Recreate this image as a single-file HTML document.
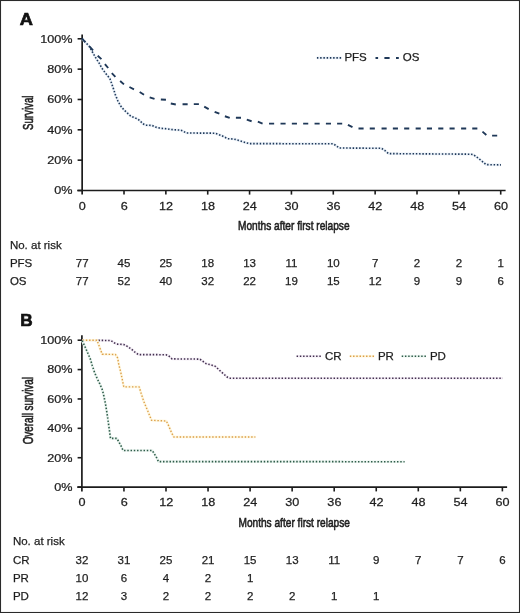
<!DOCTYPE html>
<html><head><meta charset="utf-8"><style>
html,body{margin:0;padding:0;background:#fff;}
svg{display:block;}
.t{font-family:"Liberation Sans", sans-serif;font-size:11.5px;fill:#1e1e1e;stroke:#1e1e1e;stroke-width:0.25px;}
.c{font-family:"Liberation Sans", sans-serif;font-size:14px;fill:#1e1e1e;stroke:#1e1e1e;stroke-width:0.6px;}
.tx{font-size:11.7px;}
.b{font-family:"Liberation Sans", sans-serif;font-size:17.2px;font-weight:bold;fill:#111;stroke:#111;stroke-width:0.7px;}
</style></head><body>
<svg width="520" height="613" viewBox="0 0 520 613"><rect x="0.5" y="0.5" width="519" height="612" fill="#fff" stroke="#2a2a2a" stroke-width="1.1"/><g opacity="0.999">
<g transform="translate(19.8,25.2) scale(1.06,1)"><text x="0" y="0" class="b">A</text></g>
<g transform="translate(20.2,325.9) scale(1.0,1)"><text x="0" y="0" class="b">B</text></g>
<line x1="82.15" y1="34.5" x2="82.15" y2="194.6" stroke="#1c1c1c" stroke-width="1.7"/>
<line x1="77.3" y1="190.5" x2="505.6" y2="190.5" stroke="#1c1c1c" stroke-width="1.7"/>
<line x1="77.6" y1="38.80" x2="82.15" y2="38.80" stroke="#1c1c1c" stroke-width="1.6"/>
<g transform="translate(72.6,42.60) scale(1.1,1)"><text x="0" y="0" text-anchor="end" class="t">100%</text></g>
<line x1="77.6" y1="69.14" x2="82.15" y2="69.14" stroke="#1c1c1c" stroke-width="1.6"/>
<g transform="translate(72.6,72.94) scale(1.1,1)"><text x="0" y="0" text-anchor="end" class="t">80%</text></g>
<line x1="77.6" y1="99.48" x2="82.15" y2="99.48" stroke="#1c1c1c" stroke-width="1.6"/>
<g transform="translate(72.6,103.28) scale(1.1,1)"><text x="0" y="0" text-anchor="end" class="t">60%</text></g>
<line x1="77.6" y1="129.82" x2="82.15" y2="129.82" stroke="#1c1c1c" stroke-width="1.6"/>
<g transform="translate(72.6,133.62) scale(1.1,1)"><text x="0" y="0" text-anchor="end" class="t">40%</text></g>
<line x1="77.6" y1="160.16" x2="82.15" y2="160.16" stroke="#1c1c1c" stroke-width="1.6"/>
<g transform="translate(72.6,163.96) scale(1.1,1)"><text x="0" y="0" text-anchor="end" class="t">20%</text></g>
<line x1="77.6" y1="190.50" x2="82.15" y2="190.50" stroke="#1c1c1c" stroke-width="1.6"/>
<g transform="translate(72.6,194.30) scale(1.1,1)"><text x="0" y="0" text-anchor="end" class="t">0%</text></g>
<g transform="translate(82.35,209.8) scale(1.08,1)"><text x="0" y="0" text-anchor="middle" class="t tx">0</text></g>
<line x1="124.01" y1="190.5" x2="124.01" y2="194.6" stroke="#1c1c1c" stroke-width="1.6"/>
<g transform="translate(124.21,209.8) scale(1.08,1)"><text x="0" y="0" text-anchor="middle" class="t tx">6</text></g>
<line x1="165.86" y1="190.5" x2="165.86" y2="194.6" stroke="#1c1c1c" stroke-width="1.6"/>
<g transform="translate(166.06,209.8) scale(1.08,1)"><text x="0" y="0" text-anchor="middle" class="t tx">12</text></g>
<line x1="207.72" y1="190.5" x2="207.72" y2="194.6" stroke="#1c1c1c" stroke-width="1.6"/>
<g transform="translate(207.92,209.8) scale(1.08,1)"><text x="0" y="0" text-anchor="middle" class="t tx">18</text></g>
<line x1="249.57" y1="190.5" x2="249.57" y2="194.6" stroke="#1c1c1c" stroke-width="1.6"/>
<g transform="translate(249.77,209.8) scale(1.08,1)"><text x="0" y="0" text-anchor="middle" class="t tx">24</text></g>
<line x1="291.43" y1="190.5" x2="291.43" y2="194.6" stroke="#1c1c1c" stroke-width="1.6"/>
<g transform="translate(291.63,209.8) scale(1.08,1)"><text x="0" y="0" text-anchor="middle" class="t tx">30</text></g>
<line x1="333.29" y1="190.5" x2="333.29" y2="194.6" stroke="#1c1c1c" stroke-width="1.6"/>
<g transform="translate(333.49,209.8) scale(1.08,1)"><text x="0" y="0" text-anchor="middle" class="t tx">36</text></g>
<line x1="375.14" y1="190.5" x2="375.14" y2="194.6" stroke="#1c1c1c" stroke-width="1.6"/>
<g transform="translate(375.34,209.8) scale(1.08,1)"><text x="0" y="0" text-anchor="middle" class="t tx">42</text></g>
<line x1="417.00" y1="190.5" x2="417.00" y2="194.6" stroke="#1c1c1c" stroke-width="1.6"/>
<g transform="translate(417.20,209.8) scale(1.08,1)"><text x="0" y="0" text-anchor="middle" class="t tx">48</text></g>
<line x1="458.85" y1="190.5" x2="458.85" y2="194.6" stroke="#1c1c1c" stroke-width="1.6"/>
<g transform="translate(459.05,209.8) scale(1.08,1)"><text x="0" y="0" text-anchor="middle" class="t tx">54</text></g>
<line x1="500.71" y1="190.5" x2="500.71" y2="194.6" stroke="#1c1c1c" stroke-width="1.6"/>
<g transform="translate(500.91,209.8) scale(1.08,1)"><text x="0" y="0" text-anchor="middle" class="t tx">60</text></g>
<text x="293.8" y="230.2" text-anchor="middle" class="c" style="font-size:13.4px" textLength="111.5" lengthAdjust="spacingAndGlyphs">Months after first relapse</text>
<text transform="translate(32.6,112.75) rotate(-90)" x="0" y="0" text-anchor="middle" class="c" textLength="34.5" lengthAdjust="spacingAndGlyphs">Survival</text>
<line x1="81.9" y1="335.2" x2="81.9" y2="491.4" stroke="#1c1c1c" stroke-width="1.7"/>
<line x1="77.3" y1="487.1" x2="507.1" y2="487.1" stroke="#1c1c1c" stroke-width="1.7"/>
<line x1="77.6" y1="340.20" x2="81.9" y2="340.20" stroke="#1c1c1c" stroke-width="1.6"/>
<g transform="translate(72.6,344.00) scale(1.1,1)"><text x="0" y="0" text-anchor="end" class="t">100%</text></g>
<line x1="77.6" y1="369.58" x2="81.9" y2="369.58" stroke="#1c1c1c" stroke-width="1.6"/>
<g transform="translate(72.6,373.38) scale(1.1,1)"><text x="0" y="0" text-anchor="end" class="t">80%</text></g>
<line x1="77.6" y1="398.96" x2="81.9" y2="398.96" stroke="#1c1c1c" stroke-width="1.6"/>
<g transform="translate(72.6,402.76) scale(1.1,1)"><text x="0" y="0" text-anchor="end" class="t">60%</text></g>
<line x1="77.6" y1="428.34" x2="81.9" y2="428.34" stroke="#1c1c1c" stroke-width="1.6"/>
<g transform="translate(72.6,432.14) scale(1.1,1)"><text x="0" y="0" text-anchor="end" class="t">40%</text></g>
<line x1="77.6" y1="457.72" x2="81.9" y2="457.72" stroke="#1c1c1c" stroke-width="1.6"/>
<g transform="translate(72.6,461.52) scale(1.1,1)"><text x="0" y="0" text-anchor="end" class="t">20%</text></g>
<line x1="77.6" y1="487.10" x2="81.9" y2="487.10" stroke="#1c1c1c" stroke-width="1.6"/>
<g transform="translate(72.6,490.90) scale(1.1,1)"><text x="0" y="0" text-anchor="end" class="t">0%</text></g>
<g transform="translate(82.10,506.4) scale(1.08,1)"><text x="0" y="0" text-anchor="middle" class="t tx">0</text></g>
<line x1="123.95" y1="487.1" x2="123.95" y2="491.4" stroke="#1c1c1c" stroke-width="1.6"/>
<g transform="translate(124.15,506.4) scale(1.08,1)"><text x="0" y="0" text-anchor="middle" class="t tx">6</text></g>
<line x1="166.00" y1="487.1" x2="166.00" y2="491.4" stroke="#1c1c1c" stroke-width="1.6"/>
<g transform="translate(166.20,506.4) scale(1.08,1)"><text x="0" y="0" text-anchor="middle" class="t tx">12</text></g>
<line x1="208.04" y1="487.1" x2="208.04" y2="491.4" stroke="#1c1c1c" stroke-width="1.6"/>
<g transform="translate(208.24,506.4) scale(1.08,1)"><text x="0" y="0" text-anchor="middle" class="t tx">18</text></g>
<line x1="250.09" y1="487.1" x2="250.09" y2="491.4" stroke="#1c1c1c" stroke-width="1.6"/>
<g transform="translate(250.29,506.4) scale(1.08,1)"><text x="0" y="0" text-anchor="middle" class="t tx">24</text></g>
<line x1="292.14" y1="487.1" x2="292.14" y2="491.4" stroke="#1c1c1c" stroke-width="1.6"/>
<g transform="translate(292.34,506.4) scale(1.08,1)"><text x="0" y="0" text-anchor="middle" class="t tx">30</text></g>
<line x1="334.19" y1="487.1" x2="334.19" y2="491.4" stroke="#1c1c1c" stroke-width="1.6"/>
<g transform="translate(334.39,506.4) scale(1.08,1)"><text x="0" y="0" text-anchor="middle" class="t tx">36</text></g>
<line x1="376.24" y1="487.1" x2="376.24" y2="491.4" stroke="#1c1c1c" stroke-width="1.6"/>
<g transform="translate(376.44,506.4) scale(1.08,1)"><text x="0" y="0" text-anchor="middle" class="t tx">42</text></g>
<line x1="418.28" y1="487.1" x2="418.28" y2="491.4" stroke="#1c1c1c" stroke-width="1.6"/>
<g transform="translate(418.48,506.4) scale(1.08,1)"><text x="0" y="0" text-anchor="middle" class="t tx">48</text></g>
<line x1="460.33" y1="487.1" x2="460.33" y2="491.4" stroke="#1c1c1c" stroke-width="1.6"/>
<g transform="translate(460.53,506.4) scale(1.08,1)"><text x="0" y="0" text-anchor="middle" class="t tx">54</text></g>
<line x1="502.38" y1="487.1" x2="502.38" y2="491.4" stroke="#1c1c1c" stroke-width="1.6"/>
<g transform="translate(502.58,506.4) scale(1.08,1)"><text x="0" y="0" text-anchor="middle" class="t tx">60</text></g>
<text x="294.2" y="526.5" text-anchor="middle" class="c" style="font-size:13.4px" textLength="111.5" lengthAdjust="spacingAndGlyphs">Months after first relapse</text>
<text transform="translate(33.0,410.7) rotate(-90)" x="0" y="0" text-anchor="middle" class="c" textLength="67.3" lengthAdjust="spacingAndGlyphs">Overall survival</text>
<path d="M82.2,38.8 L89,46 L93.5,53.9 L96.9,59.8 L98.9,62.7 L101.8,68.1 L105.7,73.5 L109.9,78.6 L111.1,81.9 L113.1,87.7 L115.3,94.6 L117.7,100.5 L120.3,105.5 L122.4,108.1 L124.7,110.6 L127,112.7 L129.3,115 L131.8,116.7 L135.1,117.9 L138.2,119.4 L140.5,121.3 L142.8,123.7 L145.5,125.2 L152,125.4 L154.7,126.8 L157.8,127.7 L160.9,128.3 L167.4,128.8 L170.5,129.4 L174,129.8 L180.4,130.1 L183.3,131.2 L186.2,133 L215,133.2 L221.4,135.5 L227.8,138.7 L233.8,139 L240.5,141 L246.5,142.9 L249.4,143.6 L333.1,143.8 L336.2,145.7 L339.2,148 L381.5,148.3 L384.6,150.3 L388.5,153.6 L470.4,154.2 L473.4,154.7 L476,156.5 L481.2,160.5 L486,164.6 L501,164.9" fill="none" stroke="#e8eff7" stroke-width="2.6" stroke-dasharray="none" stroke-linejoin="round"/>
<path d="M82.2,38.8 L89,46 L93.5,53.9 L96.9,59.8 L98.9,62.7 L101.8,68.1 L105.7,73.5 L109.9,78.6 L111.1,81.9 L113.1,87.7 L115.3,94.6 L117.7,100.5 L120.3,105.5 L122.4,108.1 L124.7,110.6 L127,112.7 L129.3,115 L131.8,116.7 L135.1,117.9 L138.2,119.4 L140.5,121.3 L142.8,123.7 L145.5,125.2 L152,125.4 L154.7,126.8 L157.8,127.7 L160.9,128.3 L167.4,128.8 L170.5,129.4 L174,129.8 L180.4,130.1 L183.3,131.2 L186.2,133 L215,133.2 L221.4,135.5 L227.8,138.7 L233.8,139 L240.5,141 L246.5,142.9 L249.4,143.6 L333.1,143.8 L336.2,145.7 L339.2,148 L381.5,148.3 L384.6,150.3 L388.5,153.6 L470.4,154.2 L473.4,154.7 L476,156.5 L481.2,160.5 L486,164.6 L501,164.9" fill="none" stroke="#1f3858" stroke-width="1.6" stroke-dasharray="1.45 1.8" stroke-linejoin="round"/>
<path d="M81.77,38.43L85.23,42.17M89.69,46.57L93.01,50.43M97.67,55.68L101.43,59.12M104.92,64.09L108.18,68.01M111.80,73.20L115.40,76.80M120.14,80.96L123.96,84.34M129.42,87.01L133.98,89.29M139.68,92.00L144.02,94.70M149.68,97.36L154.52,98.94M160.85,99.50L165.95,99.80M170.79,103.56L175.81,104.44M182.55,104.30L187.65,104.30M193.80,104.10L198.90,104.10M204.23,106.60L208.67,109.10M214.64,111.78L219.36,113.72M224.89,116.26L229.71,117.94M235.90,117.70L241.00,117.70M246.78,119.66L251.62,121.24M257.83,121.67L262.57,123.53M269.05,123.65L274.15,123.65M280.50,123.65L285.60,123.65M291.85,123.65L296.95,123.65M303.15,123.65L308.25,123.65M314.55,123.65L319.65,123.65M325.90,123.65L331.00,123.65M337.10,123.65L342.20,123.65M347.92,124.81L352.48,127.09M358.50,128.50L363.60,128.50M369.75,128.50L374.85,128.50M381.55,128.50L386.65,128.50M392.85,128.50L397.95,128.50M404.15,128.50L409.25,128.50M415.65,128.50L420.75,128.50M426.90,128.50L432.00,128.50M438.25,128.50L443.35,128.50M449.55,128.50L454.65,128.50M461.10,128.50L466.20,128.50M472.25,128.50L477.35,128.50M482.46,131.64L486.34,134.96M492.10,135.60L497.20,135.60" fill="none" stroke="#1f3858" stroke-width="1.9"/>
<line x1="316.9" y1="57.9" x2="341.6" y2="57.9" stroke="#e8eff7" stroke-width="2.6"/>
<line x1="316.9" y1="57.9" x2="341.6" y2="57.9" stroke="#1f3858" stroke-width="1.6" stroke-dasharray="1.45 1.8"/>
<text x="344.4" y="61.4" class="t">PFS</text>
<line x1="375.5" y1="57.9" x2="398.8" y2="57.9" stroke="#1f3858" stroke-width="2" stroke-dasharray="2.6 6.3 5.2 6.4 2.8"/>
<text x="402.8" y="61.4" class="t">OS</text>
<path d="M82.2,340.2 L110.8,340.5 L114.1,342.7 L116.8,344.1 L123.6,344.5 L126.9,346.1 L131,348.8 L135,352.2 L138.4,354.6 L166,354.7 L168.6,355.8 L172.1,358.9 L199.8,359.1 L205.9,363.5 L211.9,365.2 L215.4,366.4 L220.6,371.3 L227.5,377.3 L229.2,378.2 L502.7,378.3" fill="none" stroke="#f3edf5" stroke-width="2.6" stroke-dasharray="none" stroke-linejoin="round"/>
<path d="M82.2,340.2 L110.8,340.5 L114.1,342.7 L116.8,344.1 L123.6,344.5 L126.9,346.1 L131,348.8 L135,352.2 L138.4,354.6 L166,354.7 L168.6,355.8 L172.1,358.9 L199.8,359.1 L205.9,363.5 L211.9,365.2 L215.4,366.4 L220.6,371.3 L227.5,377.3 L229.2,378.2 L502.7,378.3" fill="none" stroke="#42304f" stroke-width="1.6" stroke-dasharray="1.45 1.8" stroke-linejoin="round"/>
<path d="M82.6,340.2 L97,340.2 L102.2,354.2 L115.5,354.5 L117.8,358.2 L118.4,362.8 L120.7,372 L122.4,380.2 L123.8,386.9 L139.2,386.9 L140.8,392.3 L143.8,401.5 L147.7,410.8 L151.5,420.3 L166.3,421.0 L168.5,425.4 L171.6,432.8 L173.8,437 L255.4,437" fill="none" stroke="#fef7e0" stroke-width="2.6" stroke-dasharray="none" stroke-linejoin="round"/>
<path d="M82.6,340.2 L97,340.2 L102.2,354.2 L115.5,354.5 L117.8,358.2 L118.4,362.8 L120.7,372 L122.4,380.2 L123.8,386.9 L139.2,386.9 L140.8,392.3 L143.8,401.5 L147.7,410.8 L151.5,420.3 L166.3,421.0 L168.5,425.4 L171.6,432.8 L173.8,437 L255.4,437" fill="none" stroke="#dc9e48" stroke-width="1.4" stroke-dasharray="1.45 1.8" stroke-linejoin="round"/>
<path d="M82.2,340.6 L84.3,345.1 L87.7,352.9 L90.3,358.9 L92.3,365.7 L94.6,372.6 L97.2,378.6 L99.7,383.7 L102.3,389.7 L104,396.6 L105.7,405.2 L107.1,413.8 L108.3,422.3 L109.5,430.9 L110.5,438.4 L116.9,438.4 L120.8,445.4 L123.1,450.5 L152.3,450.5 L156.2,456.9 L158.5,461.6 L404.6,461.7" fill="none" stroke="#eaf4ef" stroke-width="2.6" stroke-dasharray="none" stroke-linejoin="round"/>
<path d="M82.2,340.6 L84.3,345.1 L87.7,352.9 L90.3,358.9 L92.3,365.7 L94.6,372.6 L97.2,378.6 L99.7,383.7 L102.3,389.7 L104,396.6 L105.7,405.2 L107.1,413.8 L108.3,422.3 L109.5,430.9 L110.5,438.4 L116.9,438.4 L120.8,445.4 L123.1,450.5 L152.3,450.5 L156.2,456.9 L158.5,461.6 L404.6,461.7" fill="none" stroke="#2f5c4a" stroke-width="1.6" stroke-dasharray="1.45 1.8" stroke-linejoin="round"/>
<line x1="296.6" y1="356.2" x2="321" y2="356.2" stroke="#f3edf5" stroke-width="2.6"/>
<line x1="296.6" y1="356.2" x2="321" y2="356.2" stroke="#42304f" stroke-width="1.6" stroke-dasharray="1.45 1.8"/>
<text x="325" y="359.7" class="t">CR</text>
<line x1="349.8" y1="356.2" x2="374.4" y2="356.2" stroke="#fef7e0" stroke-width="2.6"/>
<line x1="349.8" y1="356.2" x2="374.4" y2="356.2" stroke="#dc9e48" stroke-width="1.6" stroke-dasharray="1.45 1.8"/>
<text x="377.9" y="359.7" class="t">PR</text>
<line x1="401.7" y1="356.2" x2="426" y2="356.2" stroke="#eaf4ef" stroke-width="2.6"/>
<line x1="401.7" y1="356.2" x2="426" y2="356.2" stroke="#2f5c4a" stroke-width="1.6" stroke-dasharray="1.45 1.8"/>
<text x="429.9" y="359.7" class="t">PD</text>
<text x="9.9" y="248.8" class="t" >No. at risk</text>
<text x="9.9" y="266.90" class="t">PFS</text>
<text x="82.15" y="266.90" text-anchor="middle" class="t">77</text>
<text x="124.01" y="266.90" text-anchor="middle" class="t">45</text>
<text x="165.86" y="266.90" text-anchor="middle" class="t">25</text>
<text x="207.72" y="266.90" text-anchor="middle" class="t">18</text>
<text x="249.57" y="266.90" text-anchor="middle" class="t">13</text>
<text x="291.43" y="266.90" text-anchor="middle" class="t">11</text>
<text x="333.29" y="266.90" text-anchor="middle" class="t">10</text>
<text x="375.14" y="266.90" text-anchor="middle" class="t">7</text>
<text x="417.00" y="266.90" text-anchor="middle" class="t">2</text>
<text x="458.85" y="266.90" text-anchor="middle" class="t">2</text>
<text x="500.71" y="266.90" text-anchor="middle" class="t">1</text>
<text x="9.9" y="285.00" class="t">OS</text>
<text x="82.15" y="285.00" text-anchor="middle" class="t">77</text>
<text x="124.01" y="285.00" text-anchor="middle" class="t">52</text>
<text x="165.86" y="285.00" text-anchor="middle" class="t">40</text>
<text x="207.72" y="285.00" text-anchor="middle" class="t">32</text>
<text x="249.57" y="285.00" text-anchor="middle" class="t">22</text>
<text x="291.43" y="285.00" text-anchor="middle" class="t">19</text>
<text x="333.29" y="285.00" text-anchor="middle" class="t">15</text>
<text x="375.14" y="285.00" text-anchor="middle" class="t">12</text>
<text x="417.00" y="285.00" text-anchor="middle" class="t">9</text>
<text x="458.85" y="285.00" text-anchor="middle" class="t">9</text>
<text x="500.71" y="285.00" text-anchor="middle" class="t">6</text>
<text x="12.9" y="545.4" class="t" >No. at risk</text>
<text x="12.9" y="563.50" class="t">CR</text>
<text x="81.90" y="563.50" text-anchor="middle" class="t">32</text>
<text x="123.95" y="563.50" text-anchor="middle" class="t">31</text>
<text x="166.00" y="563.50" text-anchor="middle" class="t">25</text>
<text x="208.04" y="563.50" text-anchor="middle" class="t">21</text>
<text x="250.09" y="563.50" text-anchor="middle" class="t">15</text>
<text x="292.14" y="563.50" text-anchor="middle" class="t">13</text>
<text x="334.19" y="563.50" text-anchor="middle" class="t">11</text>
<text x="376.24" y="563.50" text-anchor="middle" class="t">9</text>
<text x="418.28" y="563.50" text-anchor="middle" class="t">7</text>
<text x="460.33" y="563.50" text-anchor="middle" class="t">7</text>
<text x="502.38" y="563.50" text-anchor="middle" class="t">6</text>
<text x="12.9" y="581.60" class="t">PR</text>
<text x="81.90" y="581.60" text-anchor="middle" class="t">10</text>
<text x="123.95" y="581.60" text-anchor="middle" class="t">6</text>
<text x="166.00" y="581.60" text-anchor="middle" class="t">4</text>
<text x="208.04" y="581.60" text-anchor="middle" class="t">2</text>
<text x="250.09" y="581.60" text-anchor="middle" class="t">1</text>
<text x="12.9" y="599.70" class="t">PD</text>
<text x="81.90" y="599.70" text-anchor="middle" class="t">12</text>
<text x="123.95" y="599.70" text-anchor="middle" class="t">3</text>
<text x="166.00" y="599.70" text-anchor="middle" class="t">2</text>
<text x="208.04" y="599.70" text-anchor="middle" class="t">2</text>
<text x="250.09" y="599.70" text-anchor="middle" class="t">2</text>
<text x="292.14" y="599.70" text-anchor="middle" class="t">2</text>
<text x="334.19" y="599.70" text-anchor="middle" class="t">1</text>
<text x="376.24" y="599.70" text-anchor="middle" class="t">1</text>
</g></svg>
</body></html>
